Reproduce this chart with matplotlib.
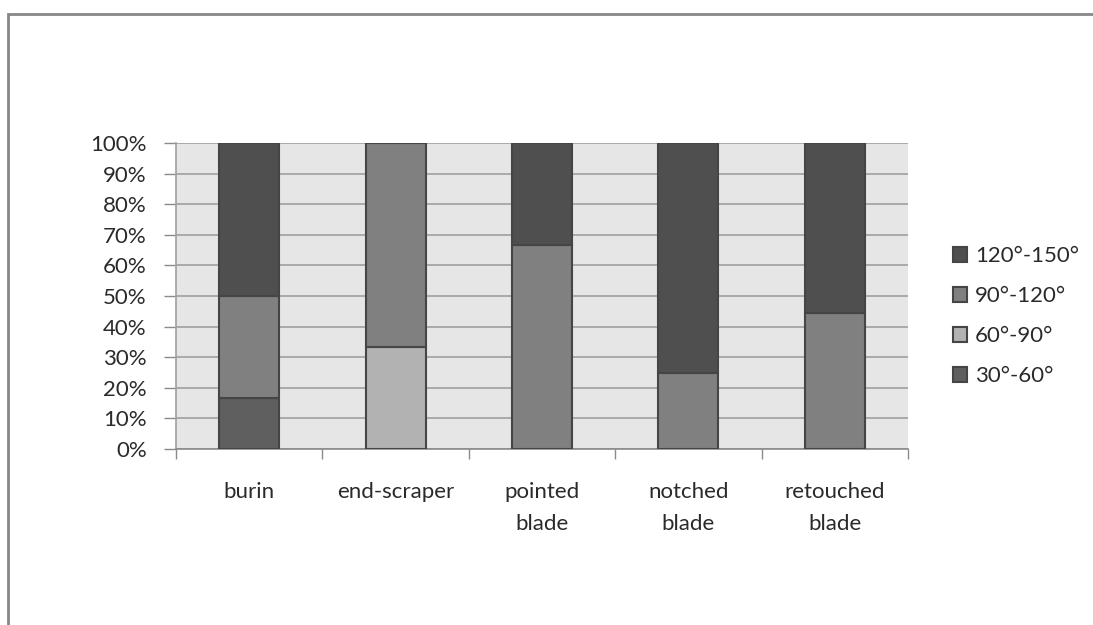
import matplotlib
matplotlib.use("Agg")
import matplotlib.pyplot as plt
import numpy as np
from matplotlib.patches import Rectangle
from matplotlib.ticker import FixedLocator, PercentFormatter

categories = ["burin", "end-scraper", "pointed\nblade", "notched\nblade", "retouched\nblade"]
series_names = ["30°-60°", "60°-90°", "90°-120°", "120°-150°"]
s30_60 = [16.7, 0.0, 0.0, 0.0, 0.0]
s60_90 = [0.0, 33.3, 0.0, 0.0, 0.0]
s90_120 = [33.3, 66.7, 66.7, 25.0, 44.4]
s120_150 = [50.0, 0.0, 33.3, 75.0, 55.6]
series_values = [s30_60, s60_90, s90_120, s120_150]
series_colors = ["#5f5f5f", "#b2b2b2", "#808080", "#4f4f4f"]

plt.rcParams['font.family'] = ['Lato', 'DejaVu Sans']
FS = 16

fig = plt.figure(figsize=(10.93, 6.25), dpi=100)
W, H = 1093, 625
ax = fig.add_axes([176 / W, 1 - 449 / H, (908 - 176) / W, (449 - 143) / H])
ax.set_facecolor("#e6e6e6")

x = np.arange(len(categories))
bottom = np.zeros(len(categories))
handles = []
for name, vals, col in zip(series_names, series_values, series_colors):
    vals = np.array(vals)
    b = ax.bar(x, vals, width=0.41, bottom=bottom, color=col,
               edgecolor="#454545", linewidth=1.5, label=name, zorder=3)
    handles.append(b)
    bottom += vals

ax.set_xlim(-0.5, len(categories) - 0.5)
ax.set_ylim(0, 100)
ax.yaxis.set_major_locator(FixedLocator(np.arange(0, 101, 10)))
ax.yaxis.set_major_formatter(PercentFormatter(decimals=0))
ax.grid(axis="y", color="#a0a0a0", linewidth=1.2, zorder=0)
ax.set_axisbelow(True)

ax.xaxis.set_major_locator(FixedLocator(np.arange(-0.5, len(categories), 1.0)))
ax.xaxis.set_major_formatter(plt.NullFormatter())
ax.xaxis.set_minor_locator(FixedLocator(x))
ax.set_xticklabels(categories, minor=True, fontsize=FS, color="#2a2a2a", linespacing=1.7)
ax.tick_params(axis="x", which="major", length=7, color="#8a8a8a", width=1)
ax.tick_params(axis="x", which="minor", length=0, pad=24)
ax.tick_params(axis="y", length=9, color="#8a8a8a", width=1, labelsize=FS,
               labelcolor="#2a2a2a", pad=12)

for side in ["top", "right"]:
    ax.spines[side].set_visible(False)
ax.spines["left"].set_color("#a0a0a0")
ax.spines["bottom"].set_color("#8a8a8a")
ax.spines["left"].set_linewidth(1.2)
ax.spines["bottom"].set_linewidth(1.2)

leg = fig.legend(handles[::-1], series_names[::-1], loc="upper left",
                 bbox_to_anchor=(944 / W, 1 - 237 / H), frameon=False,
                 fontsize=FS, handlelength=0.65, handleheight=0.65,
                 handletextpad=0.35, labelspacing=0.9, labelcolor="#2a2a2a",
                 borderaxespad=0)

# outer chart border
fig.patches.append(Rectangle((8 / W, -0.1), 1.2, 1 - 13.5 / H + 0.1,
                             transform=fig.transFigure, fill=False,
                             edgecolor="#878787", linewidth=2))

fig.savefig("out.png", dpi=100)
